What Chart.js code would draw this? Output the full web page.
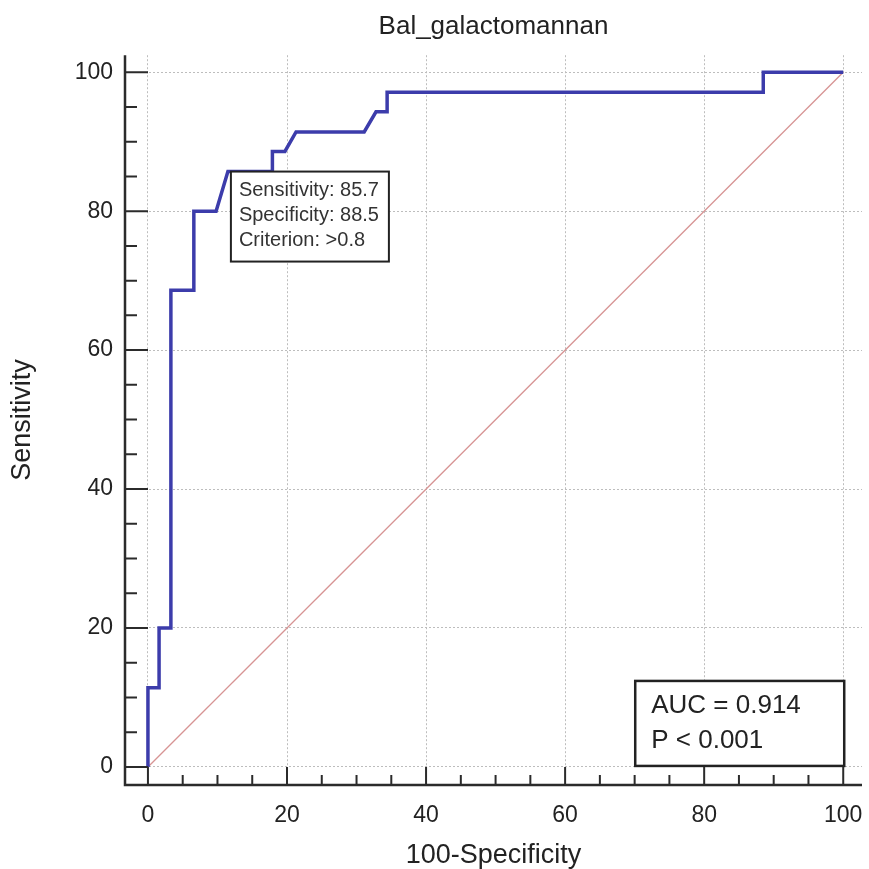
<!DOCTYPE html>
<html>
<head>
<meta charset="utf-8">
<script src="https://cdn.jsdelivr.net/npm/chart.js@4.4.1/dist/chart.umd.min.js"></script>
<style>
  html, body { margin: 0; padding: 0; background: #fff; }
</style>
</head>
<body>
<canvas id="roc" width="869" height="869"></canvas>
<script>
// ROC curve (100-Specificity, Sensitivity)
const fprValues  = [0, 0, 1.6, 1.6, 3.3, 3.3, 6.6, 6.6, 9.8, 11.5, 17.9, 17.9, 19.7, 21.3, 31.1, 32.8, 34.4, 34.4, 88.5, 88.5, 100];
const sensValues = [0, 11.4, 11.4, 20, 20, 68.6, 68.6, 80, 80, 85.7, 85.7, 88.6, 88.6, 91.4, 91.4, 94.3, 94.3, 97.1, 97.1, 100, 100];
const diagX = [0, 100];
const diagY = [0, 100];
const tickVals = [0, 5, 10, 15, 20, 25, 30, 35, 40, 45, 50, 55, 60, 65, 70, 75, 80, 85, 90, 95, 100];
const cutPoint = [11.5, 85.7];
const cutLines = ["Sensitivity: 85.7", "Specificity: 88.5", "Criterion: >0.8"];
const aucLines = ["AUC = 0.914", "P < 0.001"];

const FONT = "'Liberation Sans', Arial, sans-serif";
const isMajor = v => v % 20 === 0;

const frame = {
  id: "frame",
  afterDatasetsDraw(chart) {
    const { ctx, chartArea: a, scales: { x, y } } = chart;
    ctx.save();
    ctx.strokeStyle = "#2b2b2b";
    ctx.lineWidth = 2.5;
    ctx.beginPath();
    ctx.moveTo(a.left, a.top);
    ctx.lineTo(a.left, a.bottom);
    ctx.lineTo(a.right, a.bottom);
    ctx.stroke();

    ctx.lineWidth = 2;
    ctx.beginPath();
    tickVals.forEach(v => {
      let px = x.getPixelForValue(v);
      ctx.moveTo(px, a.bottom);
      ctx.lineTo(px, a.bottom - (isMajor(v) ? 18 : 10));
      let py = y.getPixelForValue(v);
      ctx.moveTo(a.left, py);
      ctx.lineTo(a.left + (isMajor(v) ? 23 : 12), py);
    });
    ctx.stroke();

    // criterion box
    let bx = x.getPixelForValue(cutPoint[0]) + 3;
    let by = y.getPixelForValue(cutPoint[1]);
    ctx.fillStyle = "#fff";
    ctx.fillRect(bx, by, 158, 90);
    ctx.strokeStyle = "#222";
    ctx.lineWidth = 2;
    ctx.strokeRect(bx, by, 158, 90);
    ctx.fillStyle = "#333";
    ctx.font = "20px " + FONT;
    ctx.textBaseline = "middle";
    cutLines.forEach((t, i) => ctx.fillText(t, bx + 8, by + 19 + i * 25));

    // AUC box
    let aw = 209, ah = 85;
    let ax = x.getPixelForValue(100) + 1 - aw;
    let ay = y.getPixelForValue(0) - 1 - ah;
    ctx.fillStyle = "#fff";
    ctx.fillRect(ax, ay, aw, ah);
    ctx.lineWidth = 2.5;
    ctx.strokeRect(ax, ay, aw, ah);
    ctx.fillStyle = "#222";
    ctx.font = "26px " + FONT;
    aucLines.forEach((t, i) => ctx.fillText(t, ax + 16, ay + 25 + i * 35));
    ctx.restore();
  }
};

function axis(min, max, size, isX, title) {
  return {
    type: "linear",
    min, max,
    afterBuildTicks: s => { s.ticks = tickVals.map(v => ({ value: v })); },
    afterFit: s => {
      if (isX) s.height = size; else s.width = size;
      s.paddingLeft = s.paddingRight = s.paddingTop = s.paddingBottom = 0;
    },
    ticks: {
      autoSkip: false,
      maxRotation: 0,
      padding: isX ? 17 : 12,
      color: "#222",
      font: { family: FONT, size: 23 },
      callback: v => isMajor(v) ? v : ""
    },
    grid: {
      drawTicks: false,
      lineWidth: 1,
      color: c => c.tick && isMajor(c.tick.value) ? "#bdbdbd" : "rgba(0,0,0,0)"
    },
    border: { display: false, dash: [2, 2] },
    title: {
      display: true,
      text: title,
      color: "#222",
      font: { family: FONT, size: 27, lineHeight: 1 },
      padding: isX ? { top: 0, bottom: 0 } : { top: 9, bottom: 0 }
    }
  };
}

new Chart(document.getElementById("roc"), {
  type: "scatter",
  data: {
    datasets: [{
      label: "ROC",
      data: fprValues.map((v, i) => ({ x: v, y: sensValues[i] })),
      showLine: true,
      borderColor: "#3c3cab",
      borderWidth: 3.5,
      pointRadius: 0,
      tension: 0,
      order: 0
    }, {
      label: "Reference",
      data: diagX.map((v, i) => ({ x: v, y: diagY[i] })),
      showLine: true,
      borderColor: "#d79494",
      borderWidth: 1.3,
      pointRadius: 0,
      order: 1
    }]
  },
  options: {
    responsive: false,
    animation: false,
    layout: { padding: { left: 0, right: 7, top: 0, bottom: 0 } },
    plugins: {
      legend: { display: false },
      tooltip: { enabled: false },
      title: {
        display: true,
        text: "Bal_galactomannan",
        color: "#222",
        fullSize: false,
        font: { family: FONT, size: 26, weight: "normal" },
        padding: { top: 11, bottom: 13 }
      }
    },
    scales: {
      x: axis(-3.3, 102.7, 84, true, "100-Specificity"),
      y: axis(-2.6, 102.45, 125, false, "Sensitivity")
    }
  },
  plugins: [frame]
});
</script>
</body>
</html>
